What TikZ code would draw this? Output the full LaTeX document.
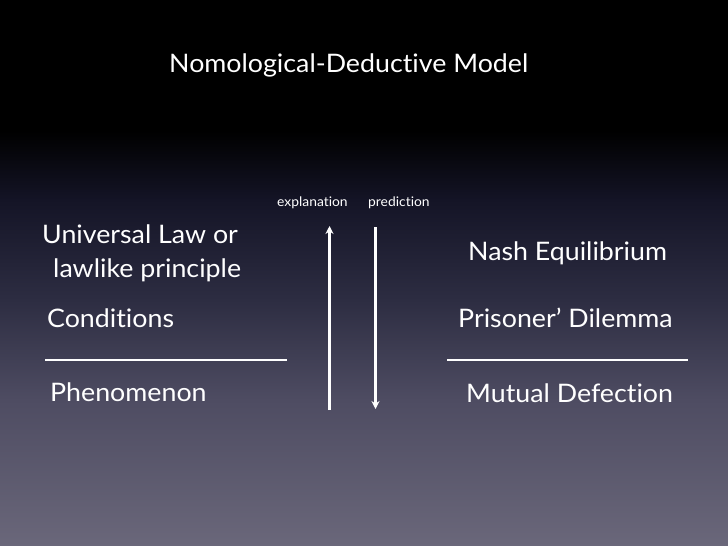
\documentclass[tikz,border=0pt]{standalone}
\usepackage{fontspec}
\setmainfont{Lato}[Ligatures=NoCommon, FakeStretch=1.05]
\usetikzlibrary{arrows.meta}
\definecolor{cA}{RGB}{0,0,0}
\definecolor{cB}{RGB}{20,20,38}
\definecolor{cC}{RGB}{45,45,66}
\definecolor{cD}{RGB}{78,76,98}
\definecolor{cE}{RGB}{106,103,122}
\pgfdeclareverticalshading{bgshade}{100bp}{color(0bp)=(cE); color(25bp)=(cE); color(38.4bp)=(cD); color(47.5bp)=(cC); color(56.7bp)=(cB); color(63bp)=(cA); color(100bp)=(cA)}
\begin{document}
\begin{tikzpicture}[x=1pt,y=-1pt,
  txt/.style={text=white, inner sep=0pt, anchor=base west, font=\fontsize{25.5}{30}\selectfont},
  ttl/.style={text=white, inner sep=0pt, anchor=base west, font=\fontsize{25.5}{30}\selectfont},
  small/.style={text=white, inner sep=0pt, anchor=base west, font=\fontsize{13.2}{16}\selectfont},
  rule/.style={white, line width=2pt},
  arr/.style={white, line width=2.2pt, -{Stealth[length=8pt,width=8pt]}}]
\fill[shading=bgshade] (0,0) rectangle (728,546);
\useasboundingbox (0,0) rectangle (728,546);
\node[ttl] (title) at (169,72) {Nomological-Deductive Model};
\node[small] (expl) at (277,206) {explanation};
\node[small] (pred) at (368,206) {prediction};
\node[txt] (law1) at (42,243) {Universal Law or};
\node[txt] (law2) at (53,277) {lawlike principle};
\node[txt] (cond) at (47,327) {Conditions};
\node[txt] (phen) at (50,401) {Phenomenon};
\node[txt] (nash) at (468,260) {Nash Equilibrium};
\node[txt] (pris) at (458,327) {Prisoner’ Dilemma};
\node[txt] (mutu) at (466,402) {Mutual Defection};
\coordinate (l1) at (45,360);
\coordinate (l2) at (287,360);
\coordinate (r1) at (447,360);
\coordinate (r2) at (688,360);
\draw[rule] (l1) -- (l2);
\draw[rule] (r1) -- (r2);
\coordinate (ub) at (329.5,410);
\coordinate (ut) at (329.5,226);
\coordinate (dt) at (375.5,227);
\coordinate (db) at (375.5,409);
\draw[arr] (ub) -- (ut);
\draw[arr] (dt) -- (db);
\end{tikzpicture}
\end{document}
